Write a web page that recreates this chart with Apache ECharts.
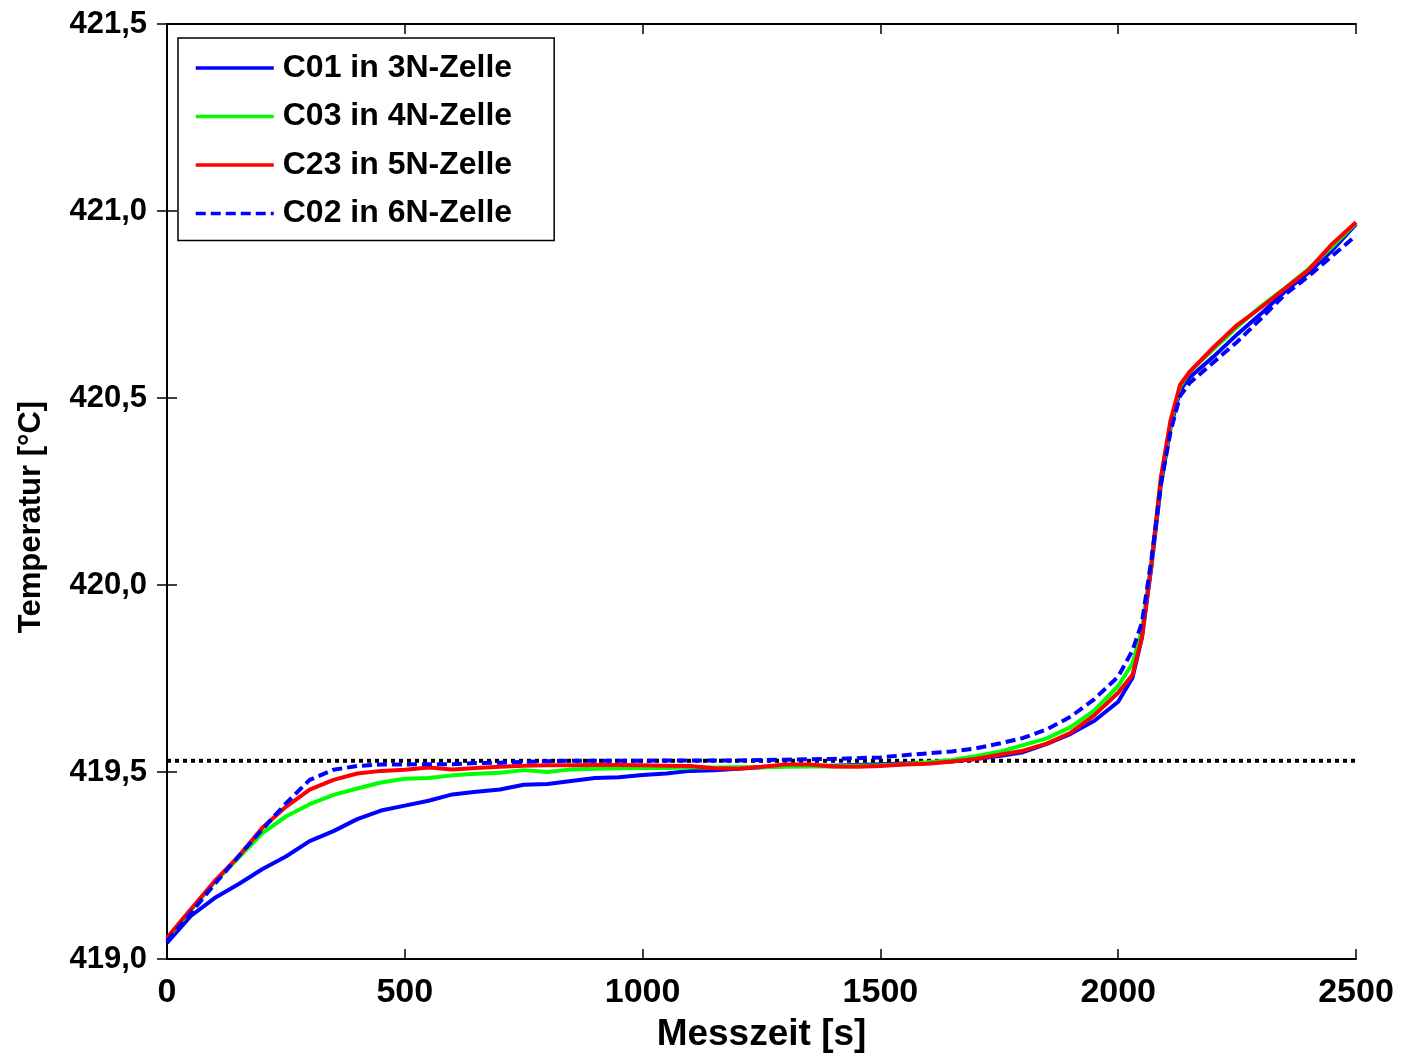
<!DOCTYPE html>
<html>
<head>
<meta charset="utf-8">
<script src="https://cdn.jsdelivr.net/npm/echarts@6/dist/echarts.min.js"></script>
<style>
  html, body { margin: 0; padding: 0; background: #fff; }
  #chart { width: 1404px; height: 1058px; }
</style>
</head>
<body>
<div id="chart"></div>
<script>
// Messzeit in Sekunden
const times = [0, 50, 100, 150, 200, 250, 300, 350, 400, 450, 500, 550, 600, 650, 700, 750, 800, 850, 900, 950,
  1000, 1050, 1100, 1150, 1200, 1250, 1300, 1350, 1400, 1450, 1500, 1550, 1600, 1650, 1700, 1750, 1800, 1850, 1900, 1950,
  2000, 2030, 2050, 2070, 2090, 2110, 2130, 2150, 2200, 2250, 2300, 2350, 2400, 2450, 2500];

// Temperaturen in °C
const c01 = [419.043, 419.115, 419.163, 419.200, 419.240, 419.274, 419.315, 419.342, 419.374, 419.397, 419.410, 419.423, 419.440, 419.447, 419.453, 419.466, 419.468, 419.476, 419.484, 419.486,
  419.492, 419.496, 419.503, 419.505, 419.509, 419.513, 419.516, 419.517, 419.517, 419.519, 419.521, 419.523, 419.525, 419.528, 419.535, 419.543, 419.553, 419.575, 419.602, 419.637,
  419.688, 419.752, 419.860, 420.050, 420.270, 420.420, 420.520, 420.555, 420.610, 420.670, 420.725, 420.784, 420.835, 420.895, 420.965];

const c03 = [419.055, 419.130, 419.205, 419.270, 419.336, 419.381, 419.414, 419.439, 419.456, 419.472, 419.482, 419.484, 419.491, 419.495, 419.498, 419.505, 419.500, 419.507, 419.509, 419.510,
  419.511, 419.511, 419.512, 419.512, 419.513, 419.513, 419.514, 419.515, 419.515, 419.517, 419.518, 419.521, 419.526, 419.532, 419.542, 419.554, 419.572, 419.590, 419.620, 419.665,
  419.730, 419.790, 419.880, 420.060, 420.285, 420.430, 420.530, 420.570, 420.630, 420.690, 420.745, 420.793, 420.845, 420.905, 420.968];

const c23 = [419.057, 419.133, 419.208, 419.274, 419.350, 419.407, 419.453, 419.479, 419.496, 419.503, 419.506, 419.512, 419.507, 419.511, 419.514, 419.517, 419.518, 419.518, 419.519, 419.519,
  419.518, 419.517, 419.516, 419.510, 419.509, 419.514, 419.520, 419.520, 419.515, 419.514, 419.516, 419.520, 419.522, 419.528, 419.535, 419.546, 419.557, 419.576, 419.605, 419.652,
  419.712, 419.760, 419.860, 420.060, 420.290, 420.440, 420.535, 420.570, 420.635, 420.695, 420.742, 420.792, 420.842, 420.912, 420.970];

const c02 = [419.048, 419.123, 419.200, 419.274, 419.346, 419.416, 419.479, 419.506, 419.516, 419.520, 419.520, 419.521, 419.521, 419.524, 419.525, 419.527, 419.529, 419.530, 419.530, 419.530,
  419.530, 419.531, 419.531, 419.531, 419.531, 419.532, 419.533, 419.534, 419.535, 419.537, 419.539, 419.545, 419.550, 419.555, 419.563, 419.576, 419.591, 419.614, 419.648, 419.695,
  419.755, 419.825, 419.900, 420.070, 420.270, 420.410, 420.505, 420.540, 420.595, 420.650, 420.712, 420.776, 420.825, 420.880, 420.934];

// Erstarrungspunkt von Zink (gepunktete Referenzlinie)
const referenceTemp = 419.53;

const seriesNames = ['C01 in 3N-Zelle', 'C03 in 4N-Zelle', 'C23 in 5N-Zelle', 'C02 in 6N-Zelle'];
const yTitle = 'Temperatur [°C]';
const xTitle = 'Messzeit [s]';

const pairs = (vals) => times.map((t, i) => [t, vals[i]]);
const fmtY = (v) => v.toFixed(1).replace('.', ',');
const fmtX = (v) => String(v);
const FONT = '"Liberation Sans", Arial, Helvetica, sans-serif';

const chart = echarts.init(document.getElementById('chart'), null, { renderer: 'canvas' });

const axisLineStyle = { color: '#000', width: 2 };
const tickStyle = { show: true, inside: true, length: 10, lineStyle: { color: '#000', width: 1.5 } };

const option = {
  animation: false,
  backgroundColor: '#fff',
  grid: { left: 167, right: 48, top: 24, bottom: 95, containLabel: false },
  legend: {
    data: seriesNames,
    orient: 'vertical',
    left: 178,
    top: 38,
    padding: [14, 42, 11, 16],
    itemGap: 16.5,
    itemWidth: 78,
    itemHeight: 14,
    backgroundColor: '#fff',
    borderColor: '#000',
    borderWidth: 1.5,
    borderRadius: 0,
    itemStyle: { opacity: 0 },
    lineStyle: { width: 3.5 },
    textStyle: { fontFamily: FONT, fontWeight: 'bold', fontSize: 32, color: '#000', lineHeight: 32, padding: [0, 0, 0, 4] }
  },
  graphic: [{
    type: 'text',
    x: 31, y: 517,
    rotation: Math.PI / 2,
    style: {
      text: yTitle, align: 'center', verticalAlign: 'middle',
      font: 'bold 31px ' + FONT, fill: '#000'
    }
  }],
  xAxis: [{
    type: 'value', min: 0, max: 2500, interval: 500,
    name: xTitle, nameLocation: 'middle', nameGap: 57,
    nameTextStyle: { fontFamily: FONT, fontWeight: 'bold', fontSize: 37, color: '#000' },
    axisLine: { show: true, lineStyle: axisLineStyle },
    axisTick: tickStyle,
    axisLabel: { fontFamily: FONT, fontWeight: 'bold', fontSize: 34, color: '#000', margin: 17, formatter: fmtX },
    splitLine: { show: false }
  }, {
    type: 'value', min: 0, max: 2500, interval: 500, position: 'top',
    axisLine: { show: true, lineStyle: axisLineStyle },
    axisTick: tickStyle,
    axisLabel: { show: false },
    splitLine: { show: false }
  }],
  yAxis: [{
    type: 'value', min: 419, max: 421.5, interval: 0.5,
    axisLine: { show: true, lineStyle: axisLineStyle },
    axisTick: tickStyle,
    axisLabel: { fontFamily: FONT, fontWeight: 'bold', fontSize: 31, color: '#000', margin: 20, formatter: fmtY },
    splitLine: { show: false }
  }, {
    type: 'value', min: 419, max: 421.5, interval: 0.5, position: 'right',
    axisLine: { show: true, lineStyle: axisLineStyle },
    axisTick: tickStyle,
    axisLabel: { show: false },
    splitLine: { show: false }
  }],
  series: [
    {
      name: 'Referenz', type: 'line', data: [[0, referenceTemp], [2500, referenceTemp]],
      symbol: 'none', silent: true, z: 1,
      lineStyle: { color: '#000', width: 4, type: [4, 4] }
    },
    {
      name: seriesNames[0], type: 'line', data: pairs(c01), symbol: 'none', z: 2,
      lineStyle: { color: '#0000ff', width: 4 }, itemStyle: { color: '#0000ff' }
    },
    {
      name: seriesNames[1], type: 'line', data: pairs(c03), symbol: 'none', z: 3,
      lineStyle: { color: '#00ff00', width: 4 }, itemStyle: { color: '#00ff00' }
    },
    {
      name: seriesNames[2], type: 'line', data: pairs(c23), symbol: 'none', z: 4,
      lineStyle: { color: '#ff0000', width: 4 }, itemStyle: { color: '#ff0000' }
    },
    {
      name: seriesNames[3], type: 'line', data: pairs(c02), symbol: 'none', z: 5,
      lineStyle: { color: '#0000ff', width: 4, type: [10, 5] }, itemStyle: { color: '#0000ff' }
    }
  ]
};

chart.setOption(option);
</script>
</body>
</html>
